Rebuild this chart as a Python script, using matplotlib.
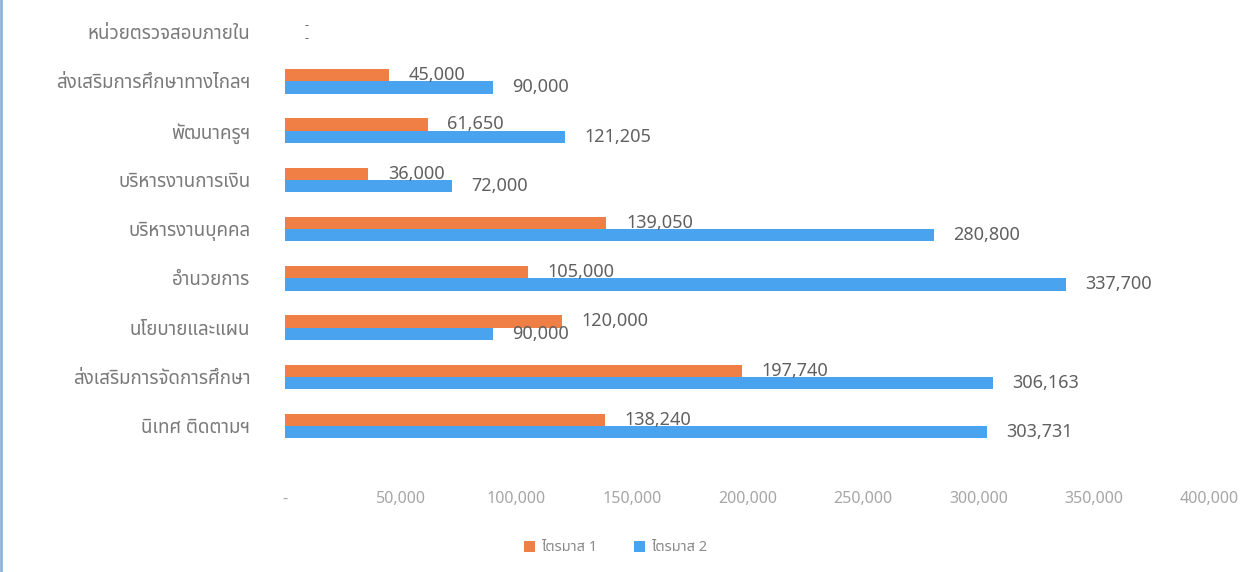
import matplotlib
matplotlib.use("Agg")
import matplotlib.pyplot as plt
from matplotlib import font_manager
from matplotlib.ft2font import FT2Font
from matplotlib.ticker import FuncFormatter
import numpy as np

categories = [
    "หน่วยตรวจสอบภายใน",
    "ส่งเสริมการศึกษาทางไกลฯ",
    "พัฒนาครูฯ",
    "บริหารงานการเงิน",
    "บริหารงานบุคคล",
    "อำนวยการ",
    "นโยบายและแผน",
    "ส่งเสริมการจัดการศึกษา",
    "นิเทศ ติดตามฯ",
]
q1 = [0, 45000, 61650, 36000, 139050, 105000, 120000, 197740, 138240]
q2 = [0, 90000, 121205, 72000, 280800, 337700, 90000, 306163, 303731]
series_names = ["ไตรมาส 1", "ไตรมาส 2"]
x_ticks = [0, 50000, 100000, 150000, 200000, 250000, 300000, 350000, 400000]


def find_thai_font():
    # look for any installed font that has Thai glyphs
    preferred = ["Noto Sans Thai", "Noto Sans Thai UI", "Loma", "Garuda",
                 "Tahoma", "Leelawadee UI", "Sarabun", "Norasi"]
    names = {}
    for f in font_manager.fontManager.ttflist:
        try:
            cmap = FT2Font(f.fname).get_charmap()
        except Exception:
            continue
        if 0x0E01 in cmap:
            names[f.name] = f.fname
    for p in preferred:
        if p in names:
            return p
    return next(iter(names), None)


thai = find_thai_font()
families = ([thai] if thai else []) + ["DejaVu Sans"]
plt.rcParams["font.family"] = families

orange = "#F07F45"
blue = "#4AA3EE"

fig = plt.figure(figsize=(12.56, 5.72), dpi=100)
ax = fig.add_axes([0.227, 0.212, 0.736, 0.775])

y = np.arange(len(categories))
h = 0.25
b1 = ax.barh(y - h / 2, q1, height=h, color=orange, label=series_names[0])
b2 = ax.barh(y + h / 2, q2, height=h, color=blue, label=series_names[1])


def fmt(v):
    return "-" if v == 0 else f"{v:,}"


for bars, vals in ((b1, q1), (b2, q2)):
    for bar, v in zip(bars, vals):
        # zero values show only a dash, drawn smaller so the two stay apart
        ax.annotate(fmt(v), xy=(bar.get_width(), bar.get_y() + bar.get_height() / 2),
                    xytext=(14, 0), textcoords="offset points",
                    ha="left", va="center", fontsize=13 if v else 8.5,
                    color="#606060")

ax.set_xlim(0, 400000)
ax.set_ylim(len(categories) - 0.5, -0.5)
ax.set_yticks(y)
ax.set_yticklabels(categories)
ax.set_xticks(x_ticks)
ax.xaxis.set_major_formatter(FuncFormatter(lambda v, p: fmt(int(v))))
ax.tick_params(axis="y", length=0, pad=25, labelsize=13.5, labelcolor="#7a7a7a")
ax.tick_params(axis="x", length=0, pad=29, labelsize=11.5, labelcolor="#a6a6a6")
for s in ax.spines.values():
    s.set_visible(False)

fig.legend(handles=[b1, b2], loc="center", bbox_to_anchor=(0.49, 0.042), ncol=2,
           frameon=False, fontsize=10.5, labelcolor="#8a8a8a",
           handlelength=0.8, handleheight=0.8, handletextpad=0.4, columnspacing=2.5)

# thin blue frame line at the left edge of the picture
fig.add_artist(plt.Line2D([0.001, 0.001], [0, 1], color="#8fb4dc", lw=2,
                          transform=fig.transFigure))

fig.savefig("out.png", dpi=100)
